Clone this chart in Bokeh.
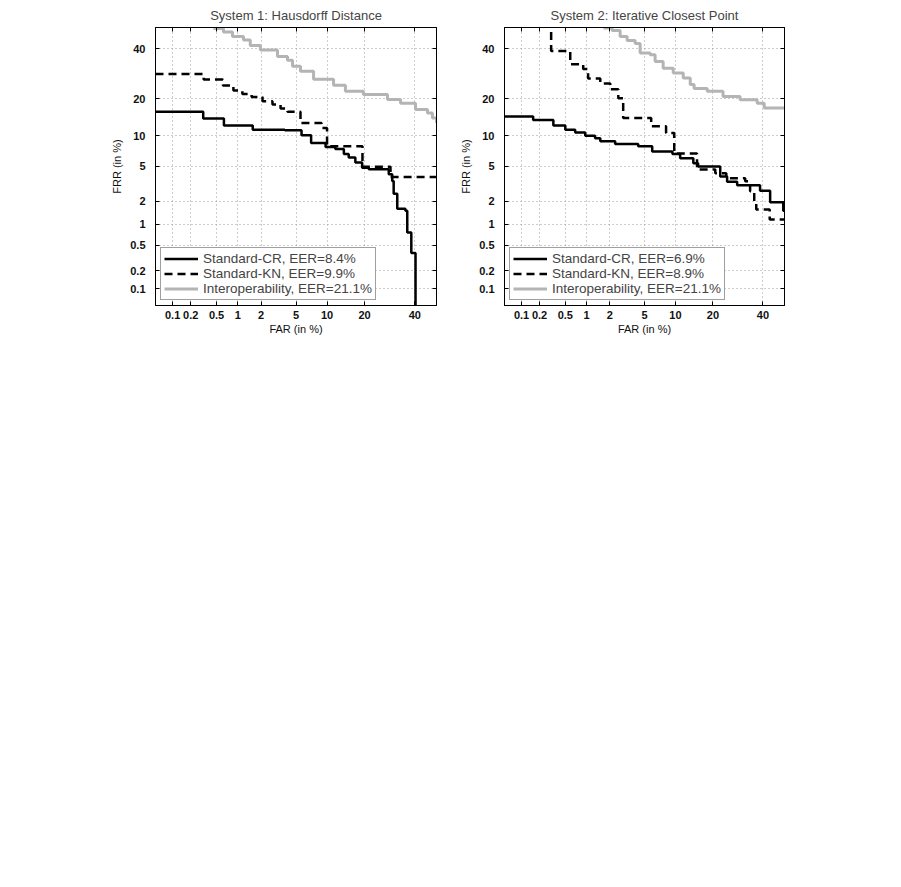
from statistics import NormalDist
from bokeh.plotting import figure
from bokeh.models import (Range1d, FixedTicker, CustomJSTickFormatter, LinearAxis,
                          Legend, LegendItem)
from bokeh.layouts import row
from bokeh.embed import file_html
from bokeh.resources import INLINE

# ---------------- data (percent) ----------------
tick_values = [0.1, 0.2, 0.5, 1, 2, 5, 10, 20, 40]
tick_labels = ["0.1", "0.2", "0.5", "1", "2", "5", "10", "20", "40"]
axis_min, axis_max = 0.05, 50

titles = ["System 1: Hausdorff Distance", "System 2: Iterative Closest Point"]
legend_labels_1 = ["Standard-CR, EER=8.4%", "Standard-KN, EER=9.9%", "Interoperability, EER=21.1%"]
legend_labels_2 = ["Standard-CR, EER=6.9%", "Standard-KN, EER=8.9%", "Interoperability, EER=21.1%"]

# System 1
s1_cr_far = [0.05, 0.315, 0.64, 1.57, 3.78, 5.7, 7.1, 9.7, 11.8, 13.9, 15.2, 17.1, 19.2, 21.4,
             28.8, 30.2, 30.8, 32.3, 35.8, 36.6, 38.4, 40.3]
s1_cr_frr = [15.9, 14.1, 12.3, 11.3, 11.2, 10.1, 8.6, 7.85, 7.5, 6.7, 6.2, 5.5, 4.86, 4.67,
             4.12, 3.47, 2.45, 1.6, 1.5, 0.76, 0.38, 0.01]
s1_kn_far = [0.05, 0.32, 0.62, 0.87, 1.15, 1.52, 2.08, 2.74, 3.39, 4.05, 5.56, 8.9, 10.0, 19.3, 29.5, 50]
s1_kn_frr = [29.1, 26.9, 24.6, 22.8, 21.6, 20.5, 19.1, 18.1, 16.9, 15.9, 12.9, 11.7, 8.0, 4.98, 3.85, 3.85]
s1_io_far = [0.45, 0.63, 0.845, 1.19, 1.46, 1.96, 3.13, 4.05, 4.59, 5.56, 7.5, 11.4, 14.3, 19.6,
             28.3, 33.7, 40.3, 45.8, 48.1, 50]
s1_io_frr = [49.5, 47.9, 45.8, 44.1, 41.6, 39.5, 36.6, 34.9, 32.3, 30.2, 27.0, 24.7, 22.5, 21.4,
             19.7, 18.5, 16.6, 15.6, 14.2, 12.9]

# System 2
s2_cr_far = [0.05, 0.157, 0.33, 0.50, 0.695, 0.96, 1.30, 1.52, 2.33, 4.28, 6.0, 9.4, 11.0, 14.2,
             15.5, 22.5, 25.0, 28.9, 38.7, 43.3, 49.4, 50]
s2_cr_frr = [14.6, 13.7, 12.3, 11.3, 10.7, 10.0, 9.5, 8.9, 8.4, 8.0, 7.1, 6.7, 6.1, 5.4,
             5.0, 3.9, 3.4, 3.1, 2.66, 1.93, 1.5, 1.5]
s2_kn_far = [0.305, 0.305, 0.59, 0.90, 1.05, 1.52, 2.03, 2.54, 2.90, 5.86, 8.2, 9.75, 15.2, 20.8,
             24.7, 32.2, 34.3, 36.1, 37.0, 43.1, 50]
s2_kn_frr = [60, 39.1, 33.2, 31.2, 27.3, 25.4, 23.2, 20.1, 14.2, 12.1, 10.6, 6.8, 4.63, 4.22,
             3.71, 3.44, 2.63, 1.98, 1.56, 1.15, 1.15]
s2_io_far = [1.67, 2.14, 2.67, 3.22, 3.96, 4.49, 5.72, 6.42, 7.69, 9.55, 11.7, 13.4, 14.4, 18.2,
             23.5, 30.1, 37.4, 40.6, 50]
s2_io_frr = [49.8, 48.6, 45.8, 43.9, 42.5, 38.1, 37.3, 34.4, 31.5, 29.5, 27.5, 25.0, 23.5, 22.5,
             20.7, 19.6, 18.5, 17.0, 16.6]

# ---------------- helpers ----------------
ND = NormalDist()


def probit(vals):
    out = []
    for v in vals:
        v = min(max(v, 1e-4), 99.99)
        out.append(ND.inv_cdf(v / 100.0))
    return out


tick_z = probit(tick_values)
FONT = "Liberation Sans"
GRAY = "#b4b4b4"


def make_formatter():
    return CustomJSTickFormatter(args=dict(zs=tick_z, labs=tick_labels), code="""
        let best = 0;
        for (let i = 0; i < zs.length; i++) {
            if (Math.abs(zs[i] - tick) < Math.abs(zs[best] - tick)) { best = i; }
        }
        return labs[best];
    """)


def make_panel(title, curves, labels, width, border_left, border_right):
    lo, hi = probit([axis_min, axis_max])
    p = figure(width=width, height=345, output_backend="svg", toolbar_location=None,
               x_range=Range1d(lo, hi), y_range=Range1d(lo, hi),
               min_border_left=border_left, min_border_right=border_right,
               min_border_top=26, min_border_bottom=40,
               background_fill_color="white", border_fill_color="white",
               outline_line_color="black", outline_line_width=1)
    p.title.text = title
    p.title.align = "center"
    p.title.text_font = FONT
    p.title.text_font_size = "13px"
    p.title.text_font_style = "normal"
    p.title.standoff = 10

    for ax in (p.xaxis[0], p.yaxis[0]):
        ax.ticker = FixedTicker(ticks=tick_z)
        ax.formatter = make_formatter()
        ax.major_tick_in = 4
        ax.major_tick_out = 0
        ax.minor_tick_line_color = None
        ax.axis_line_color = "black"
        ax.major_tick_line_color = "black"
        ax.major_label_text_font = FONT
        ax.major_label_text_font_size = "11px"
        ax.major_label_text_font_style = "bold"
        ax.major_label_text_color = "#111111"
        ax.axis_label_text_font = FONT
        ax.axis_label_text_font_size = "11px"
        ax.axis_label_text_font_style = "normal"
        ax.axis_label_text_color = "#111111"
    p.xaxis.axis_label = "FAR (in %)"
    p.yaxis.axis_label = "FRR (in %)"
    p.xaxis.major_label_standoff = 5
    p.xaxis.axis_label_standoff = 1
    p.yaxis.major_label_standoff = 10
    p.yaxis.axis_label_standoff = 4

    # tick marks on the top and right frame edges (no labels)
    for side in ("right", "above"):
        ax = LinearAxis(ticker=FixedTicker(ticks=tick_z),
                        formatter=CustomJSTickFormatter(code="return '';"),
                        major_tick_in=4, major_tick_out=0, minor_tick_line_color=None,
                        major_label_text_color=None, major_label_standoff=0,
                        axis_line_color="black", major_tick_line_color="black")
        p.add_layout(ax, side)

    p.grid.ticker = FixedTicker(ticks=tick_z)
    p.grid.grid_line_color = "#9a9a9a"
    p.grid.grid_line_dash = "1 3"
    p.grid.grid_line_width = 1

    (cr_x, cr_y), (kn_x, kn_y), (io_x, io_y) = curves
    r_io = p.step(probit(io_x), probit(io_y), mode="after", line_color=GRAY, line_width=3)
    r_cr = p.step(probit(cr_x), probit(cr_y), mode="after", line_color="black", line_width=2.5)
    r_kn = p.step(probit(kn_x), probit(kn_y), mode="after", line_color="black", line_width=2.5,
                  line_dash="8 5")

    legend = Legend(items=[LegendItem(label=labels[0], renderers=[r_cr]),
                           LegendItem(label=labels[1], renderers=[r_kn]),
                           LegendItem(label=labels[2], renderers=[r_io])],
                    location="bottom_left", margin=5, padding=3, spacing=0,
                    label_text_font=FONT, label_text_font_size="13.5px",
                    label_height=15, glyph_height=15, glyph_width=34, label_standoff=5,
                    border_line_color="#404040", border_line_width=1.5,
                    background_fill_color="white", background_fill_alpha=1)
    p.add_layout(legend, "center")
    return p


p1 = make_panel(titles[0],
                [(s1_cr_far, s1_cr_frr), (s1_kn_far, s1_kn_frr), (s1_io_far, s1_io_frr)],
                legend_labels_1, width=444, border_left=155, border_right=8)
p2 = make_panel(titles[1],
                [(s2_cr_far, s2_cr_frr), (s2_kn_far, s2_kn_frr), (s2_io_far, s2_io_frr)],
                legend_labels_2, width=348, border_left=60, border_right=8)

layout = row(p1, p2)
open("out.html", "w").write(file_html(layout, INLINE))
